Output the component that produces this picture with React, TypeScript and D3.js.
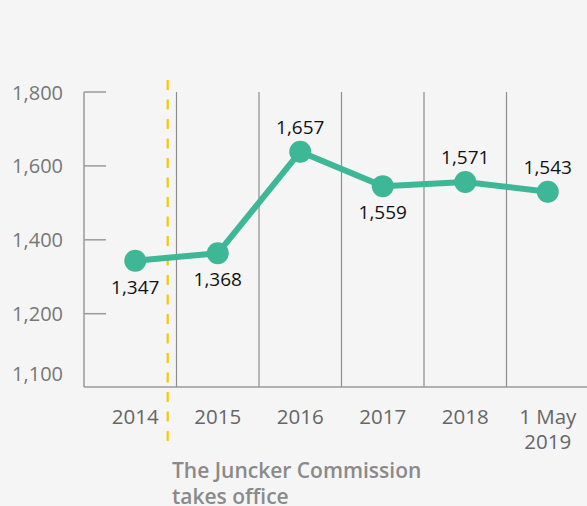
import React from "react";
import * as d3 from "d3";

const categories = ["2014", "2015", "2016", "2017", "2018", "1 May 2019"];
const categoryLines = [["2014"], ["2015"], ["2016"], ["2017"], ["2018"], ["1 May", "2019"]];
const values = [1347, 1368, 1657, 1559, 1571, 1543];
const labelSide = ["below", "below", "above", "below", "above", "above"];
const yTickValues = [1100, 1200, 1400, 1600, 1800];
const yTickLines = [1200, 1400, 1600, 1800];
const annotationLines = ["The Juncker Commission", "takes office"];

const W = 587;
const H = 506;
const FONT = "'Open Sans', 'DejaVu Sans', sans-serif";

export default function App() {
  const x = d3.scaleBand<string>().domain(categories).range([94, 589]).padding(0);
  // axis scale (broken at the bottom between 1,100 and 1,200)
  const yAxis = d3.scaleLinear().domain([1100, 1200, 1800]).range([373, 313.7, 92]);
  // data scale as drawn in the original
  const y = d3.scaleLinear().domain([1100, 1800]).range([347.5, 101.4]);

  const line = d3
    .line<number>()
    .x((_, i) => (x(categories[i]) as number) + x.bandwidth() / 2)
    .y((d) => y(d));

  const axisX = 84;
  const baseY = 387;
  const topY = 92;
  const boundaries = categories.slice(1).map((c) => x(c) as number);
  const markerX = 167.7;

  return (
    <svg
      width={W}
      height={H}
      style={{ position: "fixed", left: 0, top: 0 }}
      fontFamily={FONT}
    >
      <rect x={0} y={0} width={W} height={H} fill="#f5f5f5" />

      {/* vertical separators */}
      {boundaries.map((bx, i) => (
        <line key={i} x1={bx} x2={bx} y1={topY} y2={baseY} stroke="#8c8c8c" strokeWidth={1.2} />
      ))}

      {/* y axis */}
      <line x1={axisX} x2={axisX} y1={topY} y2={baseY} stroke="#9a9a9a" strokeWidth={1.5} />
      {yTickLines.map((t) => (
        <line key={t} x1={axisX} x2={106} y1={yAxis(t)} y2={yAxis(t)} stroke="#9a9a9a" strokeWidth={1.5} />
      ))}
      {yTickValues.map((t) => (
        <text
          key={t}
          x={63}
          y={yAxis(t)}
          textAnchor="end"
          dominantBaseline="central"
          fontSize={20}
          fill="#777"
        >
          {d3.format(",")(t)}
        </text>
      ))}

      {/* x baseline */}
      <line x1={axisX} x2={W} y1={baseY} y2={baseY} stroke="#9a9a9a" strokeWidth={1.5} />

      {/* x labels */}
      {categories.map((c, i) => {
        const cx = (x(c) as number) + x.bandwidth() / 2;
        return (
          <text key={c} x={cx} textAnchor="middle" fontSize={20.5} fontWeight={500} fill="#666">
            {categoryLines[i].map((l, j) => (
              <tspan key={j} x={cx} y={423.5 + j * 25}>
                {l}
              </tspan>
            ))}
          </text>
        );
      })}

      {/* Juncker marker */}
      <line
        x1={markerX}
        x2={markerX}
        y1={80}
        y2={443}
        stroke="#f5c800"
        strokeWidth={2.2}
        strokeDasharray="10 9.5"
      />
      <text fontSize={21} fontWeight={600} fill="#8a8a8a">
        {annotationLines.map((l, j) => (
          <tspan key={j} x={172} y={478 + j * 26}>
            {l}
          </tspan>
        ))}
      </text>

      {/* data line */}
      <path d={line(values) || ""} fill="none" stroke="#3db795" strokeWidth={6} strokeLinejoin="round" />
      {values.map((v, i) => {
        const cx = (x(categories[i]) as number) + x.bandwidth() / 2;
        return <circle key={i} cx={cx} cy={y(v)} r={11} fill="#3db795" />;
      })}
      {values.map((v, i) => {
        const cx = (x(categories[i]) as number) + x.bandwidth() / 2;
        const cy = y(v) + (labelSide[i] === "above" ? -25 : 26);
        return (
          <text
            key={i}
            x={cx}
            y={cy}
            textAnchor="middle"
            dominantBaseline="central"
            fontSize={19}
            fill="#111"
          >
            {d3.format(",")(v)}
          </text>
        );
      })}
    </svg>
  );
}
